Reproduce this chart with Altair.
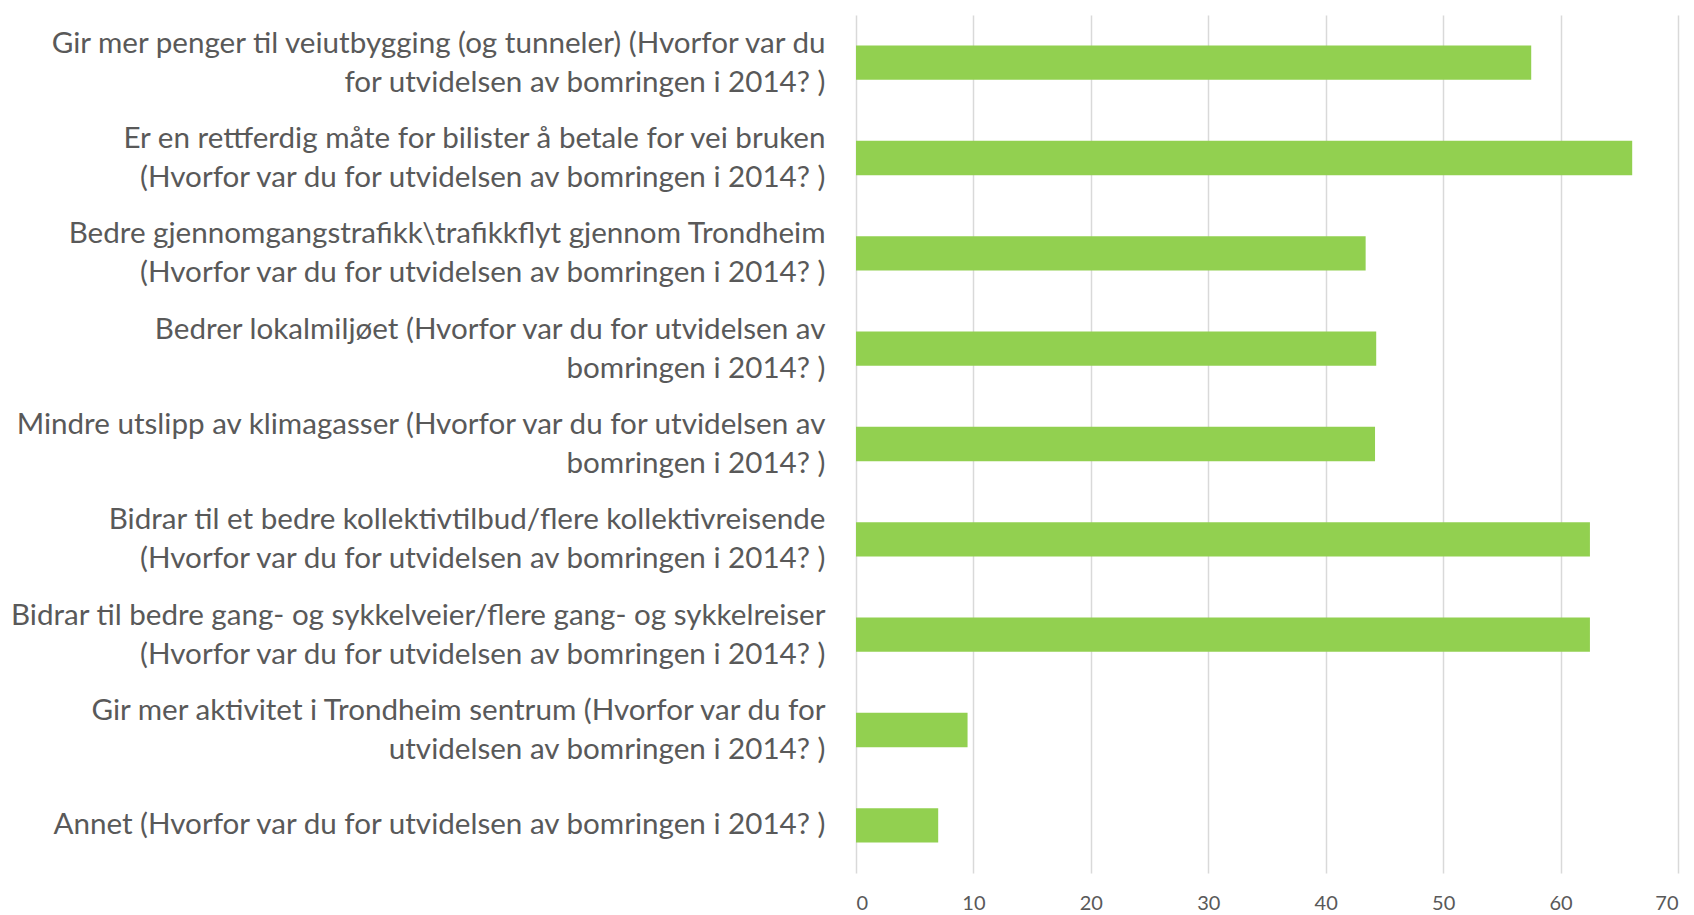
import altair as alt
import pandas as pd

categories = [
    "Gir mer penger til veiutbygging (og tunneler) (Hvorfor var du|for utvidelsen av bomringen i 2014? )",
    "Er en rettferdig måte for bilister å betale for vei bruken|(Hvorfor var du for utvidelsen av bomringen i 2014? )",
    "Bedre gjennomgangstrafikk\\trafikkflyt gjennom Trondheim|(Hvorfor var du for utvidelsen av bomringen i 2014? )",
    "Bedrer lokalmiljøet (Hvorfor var du for utvidelsen av|bomringen i 2014? )",
    "Mindre utslipp av klimagasser (Hvorfor var du for utvidelsen av|bomringen i 2014? )",
    "Bidrar til et bedre kollektivtilbud/flere kollektivreisende|(Hvorfor var du for utvidelsen av bomringen i 2014? )",
    "Bidrar til bedre gang- og sykkelveier/flere gang- og sykkelreiser|(Hvorfor var du for utvidelsen av bomringen i 2014? )",
    "Gir mer aktivitet i Trondheim sentrum (Hvorfor var du for|utvidelsen av bomringen i 2014? )",
    "Annet (Hvorfor var du for utvidelsen av bomringen i 2014? )",
]
values = [57.5, 66.1, 43.4, 44.3, 44.2, 62.5, 62.5, 9.5, 7.0]
x_ticks = [0, 10, 20, 30, 40, 50, 60, 70]

df = pd.DataFrame({"cat": categories, "val": values})

chart = alt.Chart(df).mark_bar(color="#92d050").encode(
    x=alt.X("val:Q",
            scale=alt.Scale(domain=[0, 70], nice=False),
            axis=alt.Axis(values=x_ticks, title=None, domain=False, ticks=False,
                          grid=True, gridColor="#d9d9d9", gridWidth=1.5,
                          labelFont="Lato", labelFontSize=20, labelColor="#595959",
                          labelPadding=20)),
    y=alt.Y("cat:N", sort=categories,
            scale=alt.Scale(paddingInner=0.64, paddingOuter=0.32),
            axis=alt.Axis(title=None, domain=False, ticks=False,
                          labelExpr="split(datum.label, '|')",
                          labelFont="Lato", labelFontSize=29.6, labelColor="#595959",
                          labelLineHeight=39, labelPadding=31, labelLimit=0,
                          labelAlign="right", labelBaseline="middle",
                          labelOffset=alt.condition("indexof(datum.value, '|') >= 0",
                                                    alt.value(-19), alt.value(0)))),
).properties(
    width=822,
    height=858,
    autosize=alt.AutoSizeParams(type="none"),
    padding={"left": 848, "top": 7, "right": 8, "bottom": 40},
).configure_view(stroke=None)

chart.save("out.html", embed_options={"renderer": "svg", "actions": False})
